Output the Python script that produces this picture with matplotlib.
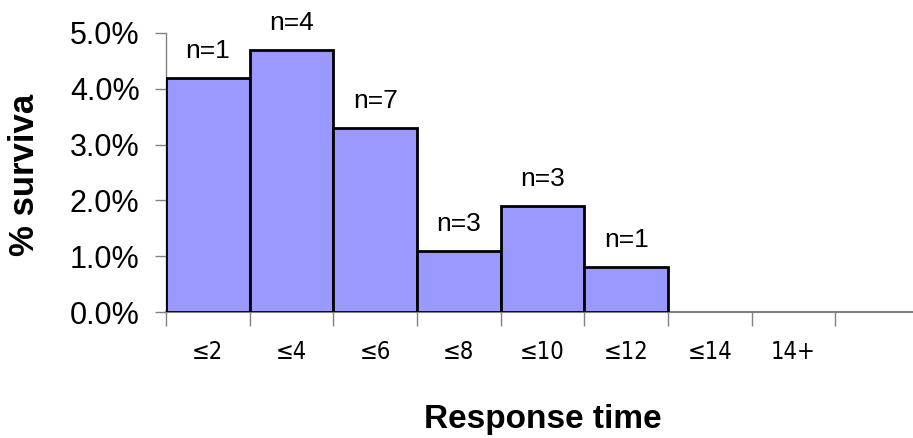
import matplotlib
matplotlib.use("Agg")
import matplotlib.pyplot as plt
from matplotlib.ticker import FuncFormatter, FixedLocator, NullFormatter

categories = ["≤2", "≤4", "≤6", "≤8", "≤10", "≤12", "≤14", "14+"]
survival_pct = [4.2, 4.7, 3.3, 1.1, 1.9, 0.8, 0.0, 0.0]
counts = ["n=1", "n=4", "n=7", "n=3", "n=3", "n=1", "", ""]
y_ticks = [0.0, 1.0, 2.0, 3.0, 4.0, 5.0]

W, H = 913, 438
fig = plt.figure(figsize=(W / 100, H / 100), dpi=100)
left, right, bottom, top = 166, 919, 312, 33
ax = fig.add_axes([left / W, 1 - bottom / H, (right - left) / W, (bottom - top) / H])

n_slots = len(categories) + 1
x = list(range(len(categories)))

# only categories with a nonzero value get a visible bar
xs = [xi for xi, v in zip(x, survival_pct) if v > 0]
vs = [v for v in survival_pct if v > 0]
ax.bar(xs, vs, width=1.0, align="edge",
       color="#9999FF", edgecolor="black", linewidth=2.0, zorder=3)

for xi, v, lab in zip(x, survival_pct, counts):
    if lab:
        ax.text(xi + 0.5, v + 0.36, lab, ha="center", va="baseline",
                fontsize=19, family="Liberation Sans", color="black")

ax.set_xlim(0, n_slots)
ax.set_ylim(0, 5.0)

ax.yaxis.set_major_locator(FixedLocator(y_ticks))
ax.yaxis.set_major_formatter(FuncFormatter(lambda v, p: f"{v:.1f}%"))
ax.tick_params(axis="y", labelsize=22, length=8, width=1, color="#808080", pad=11)
for t in ax.get_yticklabels():
    t.set_family("Liberation Sans")

ax.xaxis.set_major_locator(FixedLocator(range(n_slots)))
ax.xaxis.set_major_formatter(NullFormatter())
ax.tick_params(axis="x", length=10, width=1, color="#808080")
for xi, lab in zip(x, categories):
    ax.text(xi + 0.5, -0.72, lab, ha="center", va="center",
            fontsize=17, family="DejaVu Sans", stretch="condensed",
            color="black", clip_on=False)

for s in ["top", "right"]:
    ax.spines[s].set_visible(False)
ax.spines["left"].set_color("#808080")
ax.spines["bottom"].set_color("#808080")
ax.spines["left"].set_linewidth(1)
ax.spines["bottom"].set_linewidth(1.5)

fig.text(543 / W, 1 - 428 / H, "Response time", ha="center", va="baseline",
         fontsize=24, fontweight="bold", family="Liberation Sans")
fig.text(24 / W, 1 - 175 / H, "% surviva", ha="center", va="center",
         rotation=90, fontsize=25, fontweight="bold", family="Liberation Sans")

fig.savefig("out.png", dpi=100)
